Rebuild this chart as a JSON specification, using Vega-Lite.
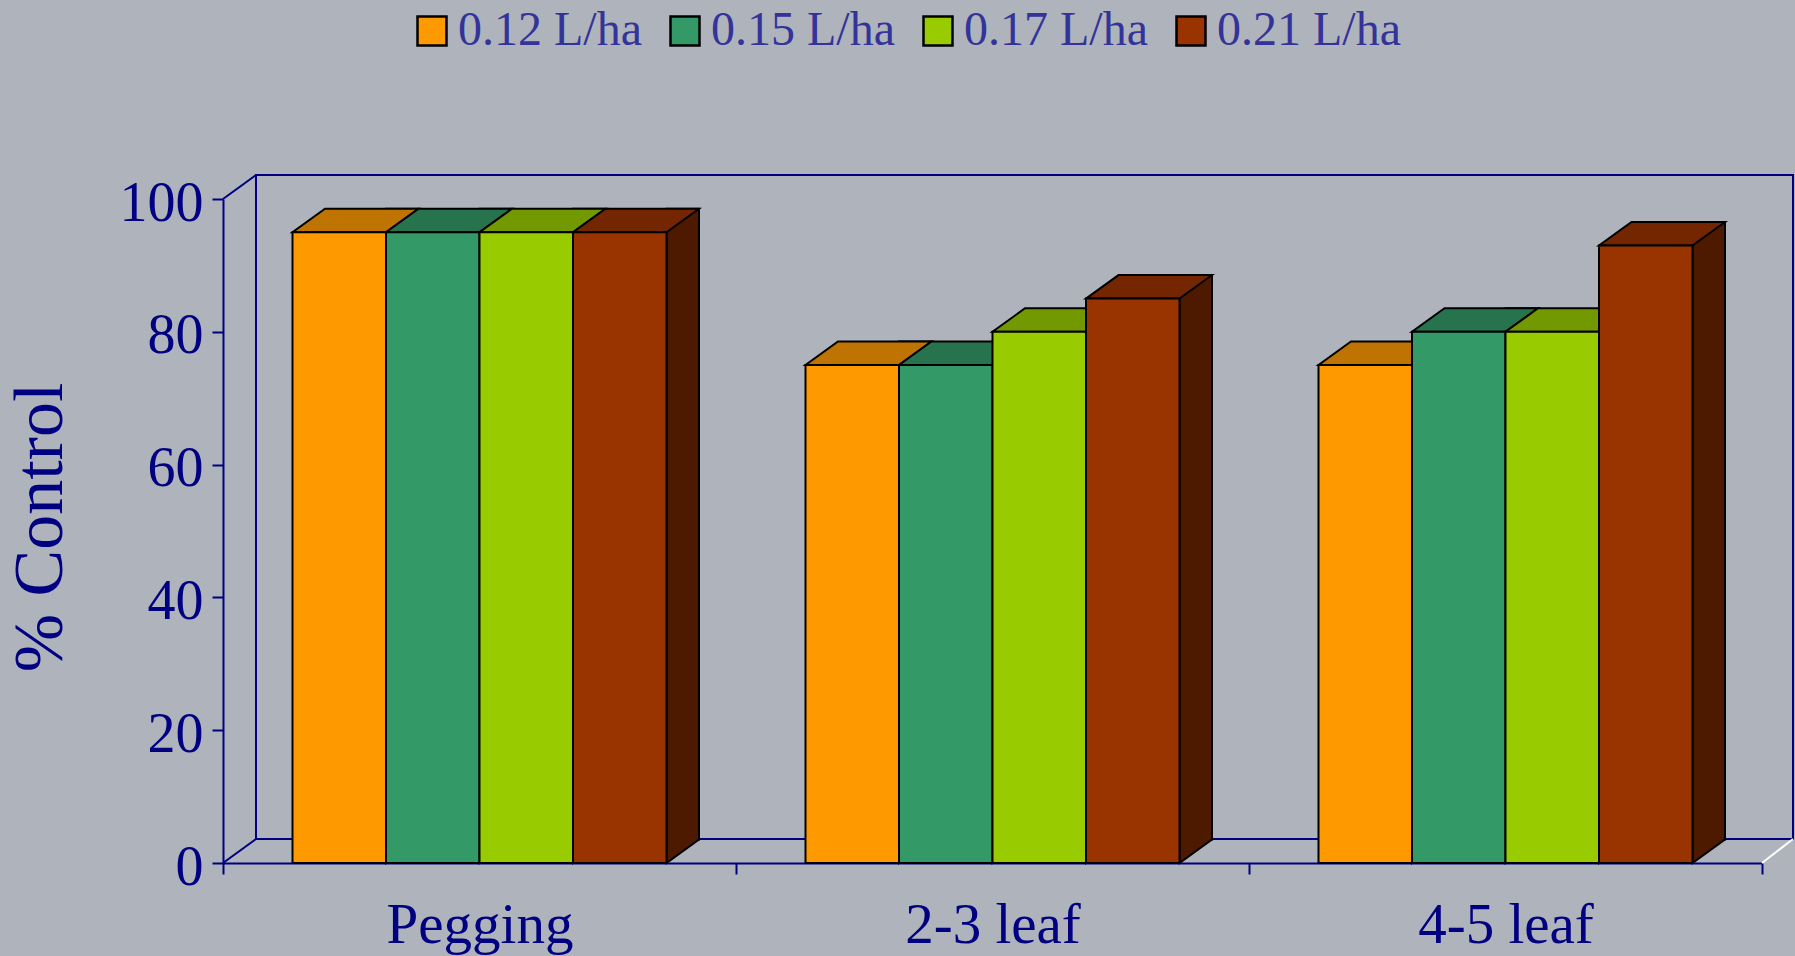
{
  "$schema": "https://vega.github.io/schema/vega-lite/v6.json",
  "width": 1537,
  "height": 664,
  "autosize": {"type": "none"},
  "padding": {"left": 256, "top": 175, "right": 2, "bottom": 117},
  "background": "#AFB3BC",
  "config": {
    "view": {"stroke": "#000080", "strokeWidth": 2},
    "font": "Liberation Serif",
    "axis": {
      "labelFont": "Liberation Serif",
      "titleFont": "Liberation Serif",
      "domainColor": "#000080",
      "domainWidth": 2,
      "tickColor": "#000080",
      "tickWidth": 2,
      "labelColor": "#000080",
      "titleColor": "#000080",
      "labelLimit": 0,
      "grid": false
    }
  },
  "data": {
    "values": [
      {"stage": "Pegging", "rate": "0.12 L/ha", "control": 95},
      {"stage": "Pegging", "rate": "0.15 L/ha", "control": 95},
      {"stage": "Pegging", "rate": "0.17 L/ha", "control": 95},
      {"stage": "Pegging", "rate": "0.21 L/ha", "control": 95},
      {"stage": "2-3 leaf", "rate": "0.12 L/ha", "control": 75},
      {"stage": "2-3 leaf", "rate": "0.15 L/ha", "control": 75},
      {"stage": "2-3 leaf", "rate": "0.17 L/ha", "control": 80},
      {"stage": "2-3 leaf", "rate": "0.21 L/ha", "control": 85},
      {"stage": "4-5 leaf", "rate": "0.12 L/ha", "control": 75},
      {"stage": "4-5 leaf", "rate": "0.15 L/ha", "control": 80},
      {"stage": "4-5 leaf", "rate": "0.17 L/ha", "control": 80},
      {"stage": "4-5 leaf", "rate": "0.21 L/ha", "control": 93}
    ]
  },
  "encoding": {
    "x": {
      "field": "stage",
      "type": "nominal",
      "scale": {"type": "band", "domain": ["Pegging", "2-3 leaf", "4-5 leaf"], "range": [-33, 1506], "paddingInner": 0, "paddingOuter": 0},
      "axis": {"title": null, "offset": 24, "tickBand": "extent", "tickSize": 11, "labelFontSize": 57, "labelPadding": 23, "labelAngle": 0}
    },
    "y": {
      "field": "control",
      "type": "quantitative",
      "scale": {"domain": [0, 100], "range": [688, 24], "nice": false},
      "axis": {
        "title": "% Control",
        "offset": 33,
        "values": [0, 20, 40, 60, 80, 100],
        "tickSize": 11,
        "labelFontSize": 56,
        "labelPadding": 9,
        "labelOffset": 4,
        "titleFontSize": 70,
        "titleFontWeight": "normal",
        "titleAngle": -90,
        "titleX": -162,
        "titleY": 352,
        "titleAlign": "center",
        "titleBaseline": "alphabetic"
      }
    }
  },
  "layer": [
    {
      "mark": {"type": "bar", "width": 32.5, "yOffset": -23.5, "y2Offset": -23.5, "stroke": "black", "strokeWidth": 2, "opacity": 1},
      "encoding": {
        "xOffset": {"field": "rate", "type": "nominal", "scale": {"type": "band", "domain": ["0.12 L/ha", "0.15 L/ha", "0.17 L/ha", "0.21 L/ha"], "range": [132.5, 506.5], "paddingInner": 0, "paddingOuter": 0}},
        "fill": {"field": "rate", "type": "nominal", "scale": {"domain": ["0.12 L/ha", "0.15 L/ha", "0.17 L/ha", "0.21 L/ha"], "range": ["#804D00", "#1A4D33", "#4D6600", "#4D1A00"]}, "legend": null}
      }
    },
    {
      "mark": {"type": "point", "shape": "M 46.75 -26 L 46.75 0 L 79.25 -23.5 L 79.25 -26", "size": 4, "filled": true, "stroke": "black", "strokeWidth": 2, "opacity": 1},
      "encoding": {
        "y": {"datum": 0},
        "xOffset": {"field": "rate", "type": "nominal", "scale": {"type": "band", "domain": ["0.12 L/ha", "0.15 L/ha", "0.17 L/ha", "0.21 L/ha"], "range": [69.5, 443.5], "paddingInner": 0, "paddingOuter": 0}},
        "fill": {"field": "rate", "type": "nominal", "scale": {"domain": ["0.12 L/ha", "0.15 L/ha", "0.17 L/ha", "0.21 L/ha"], "range": ["#804D00", "#1A4D33", "#4D6600", "#4D1A00"]}, "legend": null}
      }
    },
    {
      "mark": {"type": "point", "shape": "M -46.75 0 L 46.75 0 L 79.25 -23.5 L -14.25 -23.5 Z", "size": 4, "filled": true, "stroke": "black", "strokeWidth": 2, "opacity": 1},
      "encoding": {
        "xOffset": {"field": "rate", "type": "nominal", "scale": {"type": "band", "domain": ["0.12 L/ha", "0.15 L/ha", "0.17 L/ha", "0.21 L/ha"], "range": [69.5, 443.5], "paddingInner": 0, "paddingOuter": 0}},
        "fill": {"field": "rate", "type": "nominal", "scale": {"domain": ["0.12 L/ha", "0.15 L/ha", "0.17 L/ha", "0.21 L/ha"], "range": ["#BF7300", "#26734D", "#739900", "#732600"]}, "legend": null}
      }
    },
    {
      "mark": {"type": "bar", "stroke": "black", "strokeWidth": 2, "opacity": 1},
      "encoding": {
        "xOffset": {"field": "rate", "type": "nominal", "scale": {"type": "band", "domain": ["0.12 L/ha", "0.15 L/ha", "0.17 L/ha", "0.21 L/ha"], "range": [69.5, 443.5], "paddingInner": 0, "paddingOuter": 0}},
        "color": {
          "field": "rate",
          "type": "nominal",
          "scale": {"domain": ["0.12 L/ha", "0.15 L/ha", "0.17 L/ha", "0.21 L/ha"], "range": ["#FF9900", "#339966", "#99CC00", "#993300"]},
          "legend": {
            "title": null,
            "orient": "none",
            "legendX": 152,
            "legendY": -168,
            "direction": "horizontal",
            "labelFont": "Liberation Serif",
            "labelFontSize": 48,
            "labelColor": "#333399",
            "labelLimit": 0,
            "symbolType": "square",
            "symbolSize": 841,
            "symbolStrokeColor": "black",
            "symbolStrokeWidth": 2.5,
            "symbolOpacity": 1,
            "labelOffset": 2,
            "columnPadding": 19
          }
        }
      }
    },
    {
      "transform": [{"filter": "datum.stage === 'Pegging' && datum.rate === '0.12 L/ha'"}],
      "mark": {"type": "point", "shape": "M -256.5 0 L -223.5 -24", "size": 4, "filled": false, "stroke": "#000080", "strokeWidth": 2, "opacity": 1},
      "encoding": {"y": {"datum": 0}}
    },
    {
      "transform": [{"filter": "datum.stage === 'Pegging' && datum.rate === '0.12 L/ha'"}],
      "mark": {"type": "point", "shape": "M -256.5 0 L -223.5 -24", "size": 4, "filled": false, "stroke": "#000080", "strokeWidth": 2, "opacity": 1},
      "encoding": {"y": {"datum": 100}}
    },
    {
      "transform": [{"filter": "datum.stage === '4-5 leaf' && datum.rate === '0.21 L/ha'"}],
      "mark": {"type": "point", "shape": "M 256.5 0 L 287.5 -24", "size": 4, "filled": false, "stroke": "white", "strokeWidth": 2, "opacity": 1},
      "encoding": {"y": {"datum": 0}}
    }
  ],
  "resolve": {"scale": {"xOffset": "independent", "fill": "independent"}}
}
